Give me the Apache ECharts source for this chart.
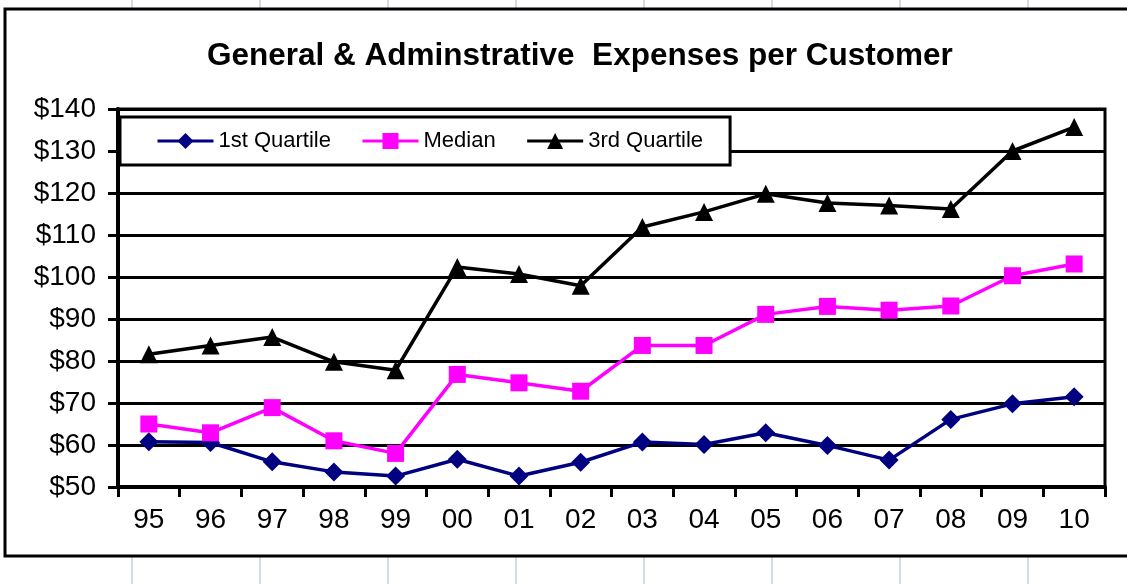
<!DOCTYPE html>
<html>
<head>
<meta charset="utf-8">
<script src="https://cdn.jsdelivr.net/npm/echarts@6/dist/echarts.min.js"></script>
<style>
  html, body { margin: 0; padding: 0; background: #fff; }
  #chart { width: 1127px; height: 584px; }
</style>
</head>
<body>
<div id="chart"></div>
<script>
var years = ['95', '96', '97', '98', '99', '00', '01', '02', '03', '04', '05', '06', '07', '08', '09', '10'];
var firstQuartile = [60.8, 60.6, 56, 53.6, 52.6, 56.6, 52.6, 55.9, 60.7, 60.1, 62.9, 59.9, 56.4, 66.1, 69.8, 71.5];
var median = [65, 62.9, 68.9, 61, 58, 76.8, 74.8, 72.8, 83.7, 83.7, 91.1, 93, 92.1, 93.1, 100.3, 103.1];
var thirdQuartile = [81.6, 83.7, 85.7, 79.8, 77.8, 102.4, 100.7, 97.9, 111.9, 115.5, 119.8, 117.6, 117, 116.2, 130, 135.7];

var font = "'Liberation Sans', Arial, sans-serif";

// light sheet cell lines behind the chart box
var cellLines = [];
[132, 260, 388, 516, 644, 772, 900, 1028].forEach(function (x) {
	cellLines.push({ type: 'line', z: -10, shape: { x1: x, y1: 0, x2: x, y2: 584 }, style: { stroke: '#d3dbe9', lineWidth: 2 } });
});

var chart = echarts.init(document.getElementById('chart'));
var option = {
	backgroundColor: '#fff',
	animation: false,
	graphic: cellLines.concat([
		{ type: 'rect', z: -5, shape: { x: 5, y: 9, width: 1140, height: 547 }, style: { fill: '#fff', stroke: '#000', lineWidth: 3 } }
	]),
	title: {
		text: 'General & Adminstrative  Expenses per Customer',
		left: 202,
		top: 35,
		textStyle: { fontFamily: font, fontSize: 31.5, fontWeight: 'bold', color: '#000' }
	},
	legend: {
		left: 120,
		top: 117,
		orient: 'horizontal',
		backgroundColor: '#fff',
		borderColor: '#000',
		borderWidth: 3,
		borderRadius: 0,
		padding: [13, 27, 13, 36],
		itemWidth: 56,
		itemHeight: 20,
		itemGap: 30,
		lineStyle: { width: 3 },
		textStyle: { fontFamily: font, fontSize: 22, color: '#000' },
		data: ['1st Quartile', 'Median', '3rd Quartile']
	},
	grid: {
		left: 118,
		right: 22,
		top: 109,
		bottom: 97,
		show: true,
		borderColor: '#000',
		borderWidth: 3,
		backgroundColor: 'transparent'
	},
	xAxis: {
		type: 'category',
		data: years,
		boundaryGap: true,
		axisLine: { lineStyle: { color: '#000', width: 4 } },
		axisTick: { show: true, length: 10, lineStyle: { color: '#000', width: 3 } },
		axisLabel: { fontFamily: font, fontSize: 28, color: '#000', margin: 19 }
	},
	yAxis: {
		type: 'value',
		min: 50,
		max: 140,
		interval: 10,
		axisLine: { show: true, lineStyle: { color: '#000', width: 4 } },
		axisTick: { show: true, length: 10, lineStyle: { color: '#000', width: 3 } },
		axisLabel: { fontFamily: font, fontSize: 28, color: '#000', margin: 22, formatter: '${value}' },
		splitLine: { show: true, lineStyle: { color: '#000', width: 3 } }
	},
	series: [
		{
			name: '1st Quartile',
			type: 'line',
			data: firstQuartile,
			symbol: 'diamond',
			symbolSize: 19,
			itemStyle: { color: '#000080' },
			lineStyle: { color: '#000080', width: 3.5 }
		},
		{
			name: 'Median',
			type: 'line',
			data: median,
			symbol: 'rect',
			symbolSize: 17,
			itemStyle: { color: '#ff00ff' },
			lineStyle: { color: '#ff00ff', width: 3.5 }
		},
		{
			name: '3rd Quartile',
			type: 'line',
			data: thirdQuartile,
			symbol: 'triangle',
			symbolSize: 18,
			itemStyle: { color: '#000' },
			lineStyle: { color: '#000', width: 3.5 }
		}
	]
};
chart.setOption(option);
</script>
</body>
</html>
